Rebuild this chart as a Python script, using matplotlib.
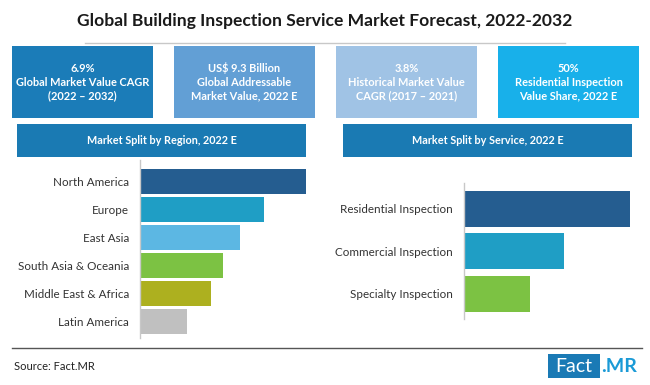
import matplotlib
matplotlib.use('Agg')
import matplotlib.pyplot as plt
from matplotlib.patches import Rectangle
from matplotlib.lines import Line2D

plt.rcParams['font.family'] = ['Lato', 'DejaVu Sans']

W, H = 650, 385

# data (bar lengths, relative)
regions = ['North America', 'Europe', 'East Asia', 'South Asia & Oceania', 'Middle East & Africa', 'Latin America']
region_vals = [166, 124, 100, 83, 71, 47]
region_cols = ['#255d90', '#1f9ec5', '#5cb7e3', '#7cc243', '#adb01f', '#c0c0c0']

services = ['Residential Inspection', 'Commercial Inspection', 'Specialty Inspection']
service_vals = [166, 100, 66]
service_cols = ['#255d90', '#1f9ec5', '#7cc243']

box_texts = ['6.9%\nGlobal Market Value CAGR\n(2022 \u2013 2032)',
             'US$ 9.3 Billion\nGlobal Addressable\nMarket Value, 2022 E',
             '3.8%\nHistorical Market Value\nCAGR (2017 \u2013 2021)',
             '50%\nResidential Inspection\nValue Share, 2022 E']
box_cols = ['#1b7cb8', '#629fd5', '#a0c3e5', '#18b0ea']
box_x = [12, 174, 336, 498]

headers = ['Market Split by Region, 2022 E', 'Market Split by Service, 2022 E']


def fx(x):
    return x / W


def fy(y):
    return 1 - y / H


fig = plt.figure(figsize=(6.5, 3.85), dpi=100)
fig.patch.set_facecolor('white')

# title
fig.text(fx(325), fy(21), 'Global Building Inspection Service Market Forecast, 2022-2032',
         ha='center', va='center', fontsize=12.6, fontweight='bold', color='#1a1a1a')
fig.add_artist(Line2D([fx(85), fx(565)], [fy(43), fy(43)], color='#c8c8c8', lw=1))

# kpi boxes
for x0, txt, c in zip(box_x, box_texts, box_cols):
    fig.add_artist(Rectangle((fx(x0), fy(118)), fx(141), 72 / H, color=c, lw=0))
    fig.text(fx(x0 + 70.5), fy(82), txt, ha='center', va='center', fontsize=7.9,
             fontweight='bold', color='white', linespacing=1.3)

# section headers
for x0, txt in zip([17, 343], headers):
    fig.add_artist(Rectangle((fx(x0), fy(157)), fx(289), 33 / H, color='#1a7ab3', lw=0))
    fig.text(fx(x0 + 144.5), fy(140.5), txt, ha='center', va='center', fontsize=7.8,
             fontweight='bold', color='white')

# region bars
ax1 = fig.add_axes([fx(140), fy(338), fx(166), 178 / H])
ax1.barh(range(len(regions)), region_vals, height=0.89, color=region_cols)
ax1.set_xlim(0, 166)
ax1.set_ylim(5.589, -0.768)
ax1.set_yticks(range(len(regions)))
ax1.set_yticklabels(regions, fontsize=8.4, color='#333333')

# service bars
ax2 = fig.add_axes([fx(464), fy(319), fx(166), 136 / H])
ax2.barh(range(len(services)), service_vals, height=0.85, color=service_cols)
ax2.set_xlim(0, 166)
ax2.set_ylim(2.59, -0.61)
ax2.set_yticks(range(len(services)))
ax2.set_yticklabels(services, fontsize=8.4, color='#333333')

for ax in [ax1, ax2]:
    ax.set_facecolor('none')
    for s in ['top', 'right', 'bottom']:
        ax.spines[s].set_visible(False)
    ax.spines['left'].set_color('#c8c8c8')
    ax.spines['left'].set_linewidth(1)
    ax.set_xticks([])
    ax.tick_params(axis='y', length=0, pad=8)

# footer
fig.add_artist(Line2D([fx(12), fx(642)], [fy(348), fy(348)], color='#555555', lw=1))
fig.text(fx(14), fy(366), 'Source: Fact.MR', ha='left', va='center', fontsize=8, color='#222222')
fig.add_artist(Rectangle((fx(548), fy(378)), fx(52), 24 / H, color='#1a7ab5', lw=0))
fig.text(fx(574), fy(366), 'Fact', ha='center', va='center', fontsize=14, color='white')
fig.text(fx(601), fy(366), '.MR', ha='left', va='center', fontsize=14, fontweight='bold', color='#1a9ad6')

fig.savefig('out.png', dpi=100)
